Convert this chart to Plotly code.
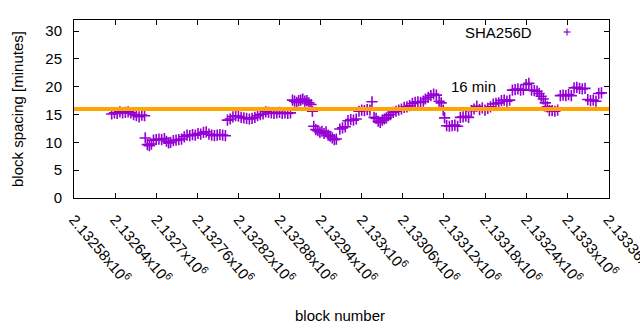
import plotly.graph_objects as go

# ---- data ----
BASE_BLOCK = 2132580
block_offset = [
    55, 59, 63, 67, 71, 75, 79, 83, 87, 91, 95, 99, 103,
    104, 107, 110, 113, 116, 120, 124, 128, 132, 135, 138, 141, 145, 149, 153, 157,
    161, 165, 169, 173, 177, 181, 185, 189, 193, 197, 201, 205, 209, 213, 217, 221,
    224, 228, 232, 236, 240, 244, 248, 252, 256, 260, 264, 268, 272, 276, 280, 284,
    288, 292, 296, 300, 304, 308, 312, 316,
    319, 322, 325, 328, 331, 334, 337, 340, 343, 346, 348,
    350, 353, 356, 359, 362, 365, 368, 371, 374, 377, 380, 383,
    388, 392, 396, 400, 404, 408, 412, 416, 420, 424, 428, 432, 435,
    438, 441, 444, 447, 450, 453, 456, 459, 462, 466, 470, 474, 478, 482, 486, 490,
    494, 498, 502, 506, 510, 513, 517, 521, 525, 529, 533, 536, 539,
    541, 544, 548, 552, 556, 560, 564, 568, 572, 576, 580, 584, 588, 592, 596, 600,
    604, 608, 612, 616, 620, 624, 628, 632, 636, 640, 644, 648, 652, 656, 660, 664,
    668, 672, 676, 679, 682, 685, 688, 691, 694, 698, 702, 706, 710, 714, 718, 722,
    726, 730, 734, 738, 742, 746, 750, 754, 758, 762, 766, 770,
]
spacing_minutes = [
    15.1, 15.3, 15.2, 15.5, 15.3, 15.4, 15.5, 15.3, 15.0, 14.8, 14.6, 14.9, 14.8,
    10.8, 9.6, 9.4, 9.7, 10.4, 10.5, 10.6, 10.5, 10.7, 10.2, 9.9, 10.0, 10.3, 10.4, 10.5, 10.6,
    11.0, 11.3, 11.2, 11.4, 11.3, 11.6, 11.5, 11.8, 11.9, 11.5, 11.3, 11.2, 11.3, 11.4, 11.3, 11.2,
    14.0, 14.2, 14.6, 14.8, 14.7, 14.5, 14.4, 14.3, 14.2, 14.3, 14.5, 14.8, 15.0, 15.1, 15.5, 15.4,
    15.3, 15.2, 15.3, 15.4, 15.2, 15.3, 15.2, 15.3,
    17.6, 17.4, 17.2, 17.5, 17.6, 17.8, 17.4, 17.5, 17.1, 16.8, 15.6,
    12.9, 12.3, 12.1, 11.8, 12.0, 11.6, 11.9, 11.3, 11.1, 10.8, 10.5, 10.6,
    12.4, 12.6, 12.8, 13.9, 14.1, 14.0, 14.2, 15.6, 15.8, 15.7, 15.9, 15.8, 17.3,
    14.5, 14.3, 13.8, 13.6, 14.0, 14.2, 14.4, 14.8, 15.0, 15.4, 15.6, 15.8, 16.0, 16.3, 16.4, 16.6,
    17.0, 17.2, 17.3, 17.2, 17.4, 17.8, 18.1, 18.4, 18.7, 18.5, 17.4, 17.1, 15.8,
    14.4, 13.0, 12.9, 13.0, 13.1, 12.9, 14.5, 14.6, 14.7, 14.5, 15.7, 16.0, 16.5, 15.9, 16.2, 15.8,
    16.1, 16.4, 16.9, 17.0, 17.1, 17.5, 17.6, 17.4, 17.6, 19.4, 19.5, 19.6, 19.4, 19.5, 20.4, 20.6,
    19.4, 19.3, 19.2, 18.8, 18.3, 17.8, 17.1, 16.4, 15.7, 15.7, 15.6, 15.8, 18.4, 18.5, 18.4, 18.6,
    18.4, 19.8, 19.9, 19.7, 19.6, 19.7, 17.7, 17.5, 17.6, 17.4, 18.8, 18.9,
]
blocks = [BASE_BLOCK + o for o in block_offset]

target_minutes = 16
x_tick_vals = [2132580, 2132640, 2132700, 2132760, 2132820, 2132880, 2132940,
               2133000, 2133060, 2133120, 2133180, 2133240, 2133300, 2133360]
x_tick_mantissa = ["2.13258", "2.13264", "2.1327", "2.13276", "2.13282", "2.13288",
                   "2.13294", "2.133", "2.13306", "2.13312", "2.13318", "2.13324",
                   "2.1333", "2.13336"]
x_range = [2132580, 2133361]
y_range = [0, 32]
y_tick_vals = [0, 5, 10, 15, 20, 25, 30]

PURPLE = "#9400D3"
ORANGE = "#FFA500"
FONT = "Liberation Sans, Arial, sans-serif"

fig = go.Figure()
fig.add_trace(go.Scatter(
    x=blocks, y=spacing_minutes, mode="markers", name="SHA256D",
    marker=dict(symbol="cross-thin", size=8, color=PURPLE,
                line=dict(color=PURPLE, width=1.6)),
    showlegend=False,
))

# 16 min reference line (drawn over the points)
fig.add_shape(type="line", xref="paper", yref="y", x0=0, x1=1,
              y0=target_minutes, y1=target_minutes,
              line=dict(color=ORANGE, width=4), layer="above")

L, R, T, B = 74, 31, 20, 132
W, H = 640, 330
pw, ph = W - L - R, H - T - B

def px(xp):
    return (xp - L) / pw

def py(yp):
    return (T + ph - yp) / ph

# legend text and sample
fig.add_annotation(text="SHA256D", xref="paper", yref="paper",
                   x=px(534), y=py(32), xanchor="right", yanchor="middle",
                   showarrow=False, font=dict(size=15, color="black", family=FONT))
fig.add_shape(type="line", xref="paper", yref="paper",
              x0=px(563.5), x1=px(570.5), y0=py(32), y1=py(32),
              line=dict(color=PURPLE, width=1.2))
fig.add_shape(type="line", xref="paper", yref="paper",
              x0=px(567), x1=px(567), y0=py(28.5), y1=py(35.5),
              line=dict(color=PURPLE, width=1.2))

# "16 min" label
fig.add_annotation(text="16 min", xref="paper", yref="paper",
                   x=px(473), y=py(86), xanchor="center", yanchor="middle",
                   showarrow=False, font=dict(size=15, color="black", family=FONT))

# axis titles
fig.add_annotation(text="block number", xref="paper", yref="paper",
                   x=px(340), y=py(315), xanchor="center", yanchor="middle",
                   showarrow=False, font=dict(size=15, color="black", family=FONT))
fig.add_annotation(text="block spacing [minutes]", xref="paper", yref="paper",
                   x=px(17), y=py(109), xanchor="center", yanchor="middle",
                   textangle=-90, showarrow=False,
                   font=dict(size=15, color="black", family=FONT))

fig.update_xaxes(
    range=x_range, tickmode="array", tickvals=x_tick_vals,
    ticktext=[m + "x10<sup>6</sup>" for m in x_tick_mantissa],
    tickangle=50, ticks="inside", ticklen=5, tickcolor="black",
    showline=True, linecolor="black", linewidth=1, mirror="ticks",
    showgrid=False, zeroline=False, ticklabelstandoff=6,
    ticklabeloverflow="allow", automargin=False,
    tickfont=dict(size=15, color="black", family=FONT),
)
fig.update_yaxes(
    range=y_range, tickmode="array", tickvals=y_tick_vals,
    ticks="inside", ticklen=5, tickcolor="black",
    showline=True, linecolor="black", linewidth=1, mirror="ticks",
    showgrid=False, zeroline=False, ticklabelstandoff=8, automargin=False,
    tickfont=dict(size=15, color="black", family=FONT),
)
fig.update_layout(
    width=W, height=H, margin=dict(l=L, r=R, t=T, b=B, pad=0, autoexpand=False),
    plot_bgcolor="white", paper_bgcolor="white",
    font=dict(family=FONT, size=15, color="black"),
)
fig.write_html("out.html")
